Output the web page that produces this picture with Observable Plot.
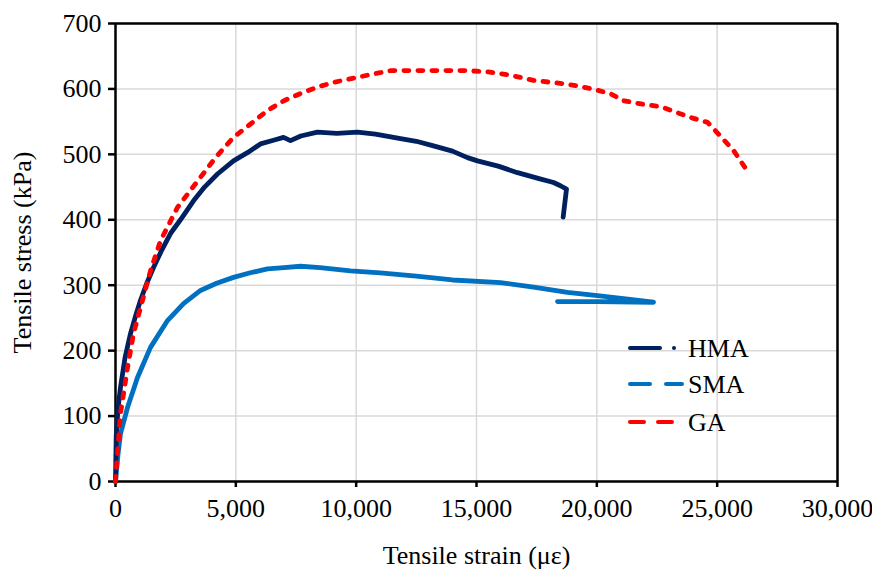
<!DOCTYPE html>
<html><head><meta charset="utf-8">
<script src="https://cdn.jsdelivr.net/npm/d3@7"></script>
<script src="https://cdn.jsdelivr.net/npm/@observablehq/plot@0.6"></script>
<style>
body{margin:0;background:#fff;}
#wrap{position:relative;width:872px;height:572px;font-family:"Liberation Serif";}
#legend{position:absolute;left:0;top:0;pointer-events:none;}
</style></head><body><div id="wrap"></div>
<script>
// ---- data ----
const xTicks = [0, 5000, 10000, 15000, 20000, 25000, 30000];
const yTicks = [0, 100, 200, 300, 400, 500, 600, 700];

const hmaStrain = [0, 30, 100, 208, 400, 623, 850, 1039, 1300, 1579, 1900, 2285, 2700, 3241, 3700, 4238, 4903, 5500, 6025, 6600, 6981, 7271, 7700, 8393, 9200, 10055, 10800, 11842, 12500, 13213, 14000, 14626, 15042, 15900, 16704, 17600, 18200, 18490, 18740, 18600];
const hmaStress = [0, 70, 110, 144, 190, 226, 255, 277, 303, 327, 352, 379, 400, 429, 450, 470, 490, 503, 516, 522, 526, 521, 528, 534, 532, 534, 531, 524, 520, 513, 505, 495, 490, 482, 472, 463, 457, 452, 447, 404];

const smaStrain = [0, 100, 208, 499, 914, 1454, 2161, 2826, 3532, 4200, 4903, 5600, 6316, 7000, 7687, 8500, 9765, 11000, 12500, 14000, 15997, 17368, 18781, 20028, 21200, 22355, 20000, 18366];
const smaStress = [0, 40, 73, 113, 159, 205, 246, 272, 292, 303, 312, 319, 325, 327, 329, 327, 322, 319, 314, 308, 304, 297, 289, 284, 279, 274, 275, 275];

const gaStrain = [0, 83, 208, 499, 748, 1122, 1454, 1870, 2576, 3532, 4200, 4903, 5600, 6316, 7000, 7687, 8400, 9058, 10471, 11427, 12548, 13500, 14626, 15500, 16413, 17368, 18615, 19300, 20028, 20600, 21108, 22000, 22646, 23400, 24017, 24599, 24931, 25679, 26302];
const gaStress = [0, 43, 104, 174, 226, 277, 322, 368, 419, 465, 497, 526, 546, 567, 582, 593, 603, 610, 621, 628, 628, 628, 628, 626, 621, 613, 608, 604, 598, 592, 582, 576, 573, 563, 555, 549, 536, 506, 472];

const seriesNames = ["HMA", "SMA", "GA"];
const seriesColors = ["#002060", "#0070C0", "#FF0000"];

const rows = (xs, ys) => xs.map((x, i) => ({strain: x, stress: ys[i]}));
const hma = rows(hmaStrain, hmaStress);
const sma = rows(smaStrain, smaStress);
const ga = rows(gaStrain, gaStress);

const font = "Liberation Serif";
const fs = 26;

const chart = Plot.plot({
  width: 872, height: 572,
  marginLeft: 115, marginRight: 35, marginTop: 23, marginBottom: 91,
  style: {fontFamily: font, fontSize: fs + "px", color: "#000", background: "#fff", overflow: "visible"},
  x: {domain: [0, 30000]},
  y: {domain: [0, 700]},
  marks: [
    Plot.gridX(xTicks, {stroke: "#d9d9d9", strokeOpacity: 1, strokeWidth: 1.5}),
    Plot.gridY(yTicks, {stroke: "#d9d9d9", strokeOpacity: 1, strokeWidth: 1.5}),
    Plot.axisX(xTicks, {tickFormat: d3.format(","), tickSize: 6, tickPadding: 11, stroke: "#000", fill: "#000", strokeWidth: 2.5, label: null, fontSize: fs}),
    Plot.axisY(yTicks, {tickSize: 7, tickPadding: 7, stroke: "#000", fill: "#000", strokeWidth: 2.5, label: null, fontSize: fs}),
    Plot.ruleX([0], {stroke: "#000", strokeWidth: 2.5}),
    Plot.ruleY([0], {stroke: "#000", strokeWidth: 2.5}),
    Plot.ruleX([30000], {stroke: "#000", strokeWidth: 2.5, y1: 0, y2: 700}),
    Plot.ruleY([700], {stroke: "#000", strokeWidth: 2.5}),
    Plot.line(sma, {x: "strain", y: "stress", stroke: seriesColors[1], strokeWidth: 4.8, strokeLinejoin: "round", strokeLinecap: "round"}),
    Plot.line(hma, {x: "strain", y: "stress", stroke: seriesColors[0], strokeWidth: 4.8, strokeLinejoin: "round", strokeLinecap: "round"}),
    Plot.line(ga, {x: "strain", y: "stress", stroke: seriesColors[2], strokeWidth: 4.8, strokeDasharray: "5,9", strokeLinecap: "round"}),
    Plot.text(["Tensile strain (με)"], {text: d => d, frameAnchor: "bottom", textAnchor: "middle", lineAnchor: "middle", dy: 74, fontSize: fs, fill: "#000"}),
    Plot.text(["Tensile stress (kPa)"], {text: d => d, frameAnchor: "left", textAnchor: "middle", lineAnchor: "middle", rotate: -90, dx: -93, fontSize: fs, fill: "#000"})
  ]
});
document.getElementById("wrap").appendChild(chart);

// ---- legend (drawn inside the plot area, as in the reference) ----
const legendDash = [null, "20,16", "14,14"];
const legendY = [348, 384, 422];
const lg = d3.select("#wrap").append("svg").attr("id", "legend").attr("width", 872).attr("height", 572);
seriesNames.forEach((name, i) => {
  const g = lg.append("g").attr("transform", `translate(628,${legendY[i]})`);
  if (i === 0) {
    g.append("line").attr("x1", 2).attr("x2", 32).attr("stroke", seriesColors[i]).attr("stroke-width", 4).attr("stroke-linecap", "round");
    g.append("circle").attr("cx", 46).attr("r", 2).attr("fill", seriesColors[i]);
  } else {
    g.append("line").attr("x1", 2).attr("x2", i === 1 ? 54 : 46).attr("stroke", seriesColors[i]).attr("stroke-width", 4)
      .attr("stroke-linecap", "round").attr("stroke-dasharray", legendDash[i]);
  }
  g.append("text").attr("x", 60).attr("y", 0).attr("dy", "0.34em").attr("font-size", fs).attr("fill", "#000").text(name);
});

d3.selectAll("#wrap svg").attr("font-family", font);
d3.selectAll("#wrap text").attr("font-family", font).style("font-family", font);
</script>
</body></html>
